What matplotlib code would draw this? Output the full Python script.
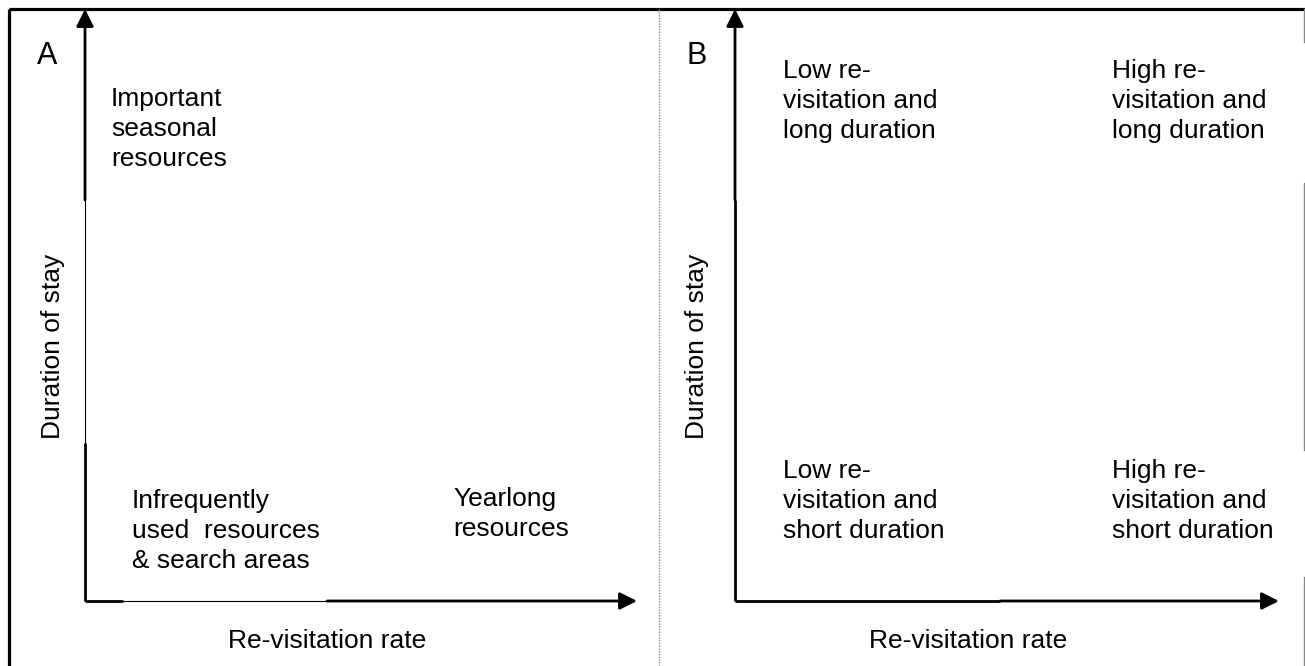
import matplotlib.pyplot as plt

plt.rcParams['font.family'] = ['Liberation Sans', 'DejaVu Sans']

# panel letters and axis titles
panels = ['A', 'B']
x_title = 'Re-visitation rate'
y_title = 'Duration of stay'

# quadrant labels, panel A
a_top = 'Important\nseasonal\nresources'
a_bottom_left = 'Infrequently\nused  resources\n& search areas'
a_bottom_right = 'Yearlong\nresources'

# quadrant labels, panel B
b_labels = [
    'Low re-\nvisitation and\nlong duration',
    'High re-\nvisitation and\nlong duration',
    'Low re-\nvisitation and\nshort duration',
    'High re-\nvisitation and\nshort duration',
]

W, H = 1305, 666
fig = plt.figure(figsize=(W / 100, H / 100), dpi=100)
ax = fig.add_axes([0, 0, 1, 1])
ax.set_xlim(0, W)
ax.set_ylim(H, 0)
ax.axis('off')

thick = 2.0
thin = 0.8

# outer frame
ax.plot([9, 9], [9, H], color='black', lw=2.3, solid_capstyle='butt')
ax.plot([9, W], [9, 9], color='black', lw=2.3, solid_capstyle='butt')
ax.plot([659, 659], [9, H], color='#888888', lw=1.0, ls=(0, (1, 1)))
for y0, y1 in [(9, 42), (183, 450), (577, H)]:
    ax.plot([1304, 1304], [y0, y1], color='#888888', lw=1.0)


def arrow(x0, y0, x1, y1):
    ax.annotate('', xy=(x1, y1), xytext=(x0, y0),
                arrowprops=dict(arrowstyle='-|>', color='black', lw=thick,
                                mutation_scale=26, shrinkA=0, shrinkB=0))


# panel A axes (some parts drawn thinner, as in the original)
oy = 601
ax.plot([85, 85], [oy, 443], color='black', lw=thick, solid_capstyle='butt')
ax.plot([85, 85], [443, 200], color='black', lw=thin)
arrow(85, 200, 85, 9)
ax.plot([85, 123], [oy, oy], color='black', lw=thick, solid_capstyle='butt')
ax.plot([123, 327], [oy, oy], color='black', lw=thin)
arrow(327, oy, 637, oy)

# panel B axes
ax.plot([735, 735], [oy, 200], color='black', lw=thick, solid_capstyle='butt')
arrow(735, 200, 735, 9)
ax.plot([735, 1000], [oy, oy], color='black', lw=thick, solid_capstyle='butt')
arrow(1000, oy, 1279, oy)

fs = 19
ax.text(47, 56, panels[0], fontsize=22, ha='center', va='center')
ax.text(697, 56, panels[1], fontsize=22, ha='center', va='center')

for cx in (327, 968):
    ax.text(cx, 641, x_title, fontsize=fs, ha='center', va='center')
for cx in (53, 697):
    ax.text(cx, 346, y_title, fontsize=fs, rotation=90, ha='center', va='center')

ls = 1.3
ax.text(111, 129, a_top, fontsize=fs, ha='left', va='center', linespacing=ls)
ax.text(132, 531, a_bottom_left, fontsize=fs, ha='left', va='center', linespacing=ls)
ax.text(453, 514, a_bottom_right, fontsize=fs, ha='left', va='center', linespacing=ls)

bx = [783, 1112, 783, 1112]
by = [101, 101, 501, 501]
for x, y, s in zip(bx, by, b_labels):
    ax.text(x, y, s, fontsize=fs, ha='left', va='center', linespacing=ls)

fig.savefig('out.png', dpi=100)
